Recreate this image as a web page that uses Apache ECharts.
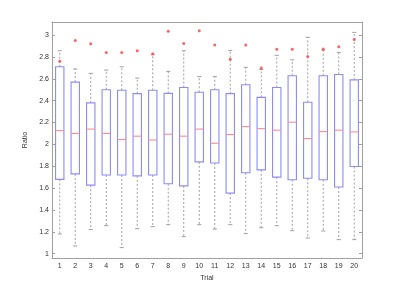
<!DOCTYPE html>
<html>
<head>
<meta charset="utf-8">
<script src="https://cdn.jsdelivr.net/npm/echarts@6/dist/echarts.min.js"></script>
<style>html,body{margin:0;padding:0;background:#fff}#c{width:399px;height:291px}</style>
</head>
<body>
<div id="c"></div>
<script>
var trials = ['1','2','3','4','5','6','7','8','9','10','11','12','13','14','15','16','17','18','19','20'];
var lowerWhisker = [1.18,1.07,1.22,1.256,1.055,1.228,1.247,1.265,1.155,1.265,1.225,1.265,1.183,1.237,1.256,1.21,1.143,1.207,1.128,1.128];
var q1 = [1.68,1.73,1.627,1.72,1.72,1.712,1.72,1.64,1.62,1.84,1.83,1.554,1.74,1.767,1.70,1.676,1.69,1.676,1.61,1.797];
var median = [2.126,2.10,2.14,2.10,2.044,2.075,2.04,2.093,2.075,2.14,2.01,2.09,2.163,2.144,2.13,2.203,2.053,2.117,2.13,2.114];
var q3 = [2.71,2.57,2.38,2.50,2.495,2.464,2.495,2.467,2.52,2.477,2.50,2.464,2.546,2.43,2.52,2.628,2.385,2.628,2.64,2.59];
var upperWhisker = [2.857,2.69,2.65,2.68,2.71,2.607,2.82,2.668,2.857,2.62,2.62,2.86,2.705,2.686,2.815,2.774,2.98,2.863,2.842,3.025];
var outliers = [2.76,2.95,2.92,2.84,2.84,2.857,2.83,3.036,2.924,3.04,2.91,2.78,2.91,2.70,2.87,2.87,2.805,2.872,2.893,2.96];
var yTicks = [1,1.2,1.4,1.6,1.8,2,2.2,2.4,2.6,2.8,3];

var boxData = trials.map(function(t,i){return [i, lowerWhisker[i], q1[i], median[i], q3[i], upperWhisker[i]];});
var outData = outliers.map(function(v,i){return [i, v];});

var axisCol = '#a0a0a0';
var font = 'Liberation Sans, Arial, sans-serif';

var chart = echarts.init(document.getElementById('c'));
chart.setOption({
  animation: false,
  backgroundColor: '#fff',
  grid: {left: 52, right: 37, top: 22, bottom: 33},
  xAxis: [{
    type: 'category', data: trials, position: 'bottom',
    name: 'Trial', nameLocation: 'middle', nameGap: 14,
    nameTextStyle: {fontSize: 7, color: '#333', fontFamily: font},
    axisLine: {lineStyle: {color: axisCol}},
    axisTick: {inside: true, length: 3, alignWithLabel: true, lineStyle: {color: axisCol}},
    axisLabel: {fontSize: 7, color: '#333', margin: 5, fontFamily: font, interval: 0},
    splitLine: {show: false}
  },{
    type: 'category', data: trials, position: 'top',
    axisLine: {lineStyle: {color: axisCol}},
    axisTick: {inside: true, length: 3, alignWithLabel: true, lineStyle: {color: axisCol}},
    axisLabel: {show: false},
    splitLine: {show: false}
  }],
  yAxis: [{
    type: 'value', min: 0.96, max: 3.12, position: 'left',
    name: 'Ratio', nameLocation: 'middle', nameGap: 13,
    nameTextStyle: {fontSize: 7, color: '#333', fontFamily: font},
    axisLine: {show: true, lineStyle: {color: axisCol}},
    axisTick: {show: true, inside: true, length: 3, customValues: yTicks, lineStyle: {color: axisCol}},
    axisLabel: {fontSize: 7, color: '#333', margin: 3, fontFamily: font, customValues: yTicks},
    splitLine: {show: false}
  },{
    type: 'value', min: 0.96, max: 3.12, position: 'right',
    axisLine: {show: true, lineStyle: {color: axisCol}},
    axisTick: {show: true, inside: true, length: 3, customValues: yTicks, lineStyle: {color: axisCol}},
    axisLabel: {show: false},
    splitLine: {show: false}
  }],
  series: [{
    type: 'custom',
    xAxisIndex: 0, yAxisIndex: 0,
    data: boxData,
    encode: {x: 0, y: [1,2,3,4,5]},
    renderItem: function(params, api){
      var x = api.value(0);
      var pLo = api.coord([x, api.value(1)]);
      var pQ1 = api.coord([x, api.value(2)]);
      var pMed = api.coord([x, api.value(3)]);
      var pQ3 = api.coord([x, api.value(4)]);
      var pHi = api.coord([x, api.value(5)]);
      var band = api.size([1, 0])[0];
      var bw = band * 0.54;
      var cw = bw * 0.5;
      var cx = pMed[0];
      var wStyle = {stroke: '#a0a0a0', lineWidth: 1, lineDash: [2, 2]};
      var cStyle = {stroke: '#a0a0a0', lineWidth: 1};
      return {
        type: 'group',
        children: [
          {type: 'line', shape: {x1: cx, y1: pQ3[1], x2: cx, y2: pHi[1]}, style: wStyle},
          {type: 'line', shape: {x1: cx, y1: pQ1[1], x2: cx, y2: pLo[1]}, style: wStyle},
          {type: 'line', shape: {x1: cx - cw/2, y1: pHi[1], x2: cx + cw/2, y2: pHi[1]}, style: cStyle},
          {type: 'line', shape: {x1: cx - cw/2, y1: pLo[1], x2: cx + cw/2, y2: pLo[1]}, style: cStyle},
          {type: 'rect', shape: {x: cx - bw/2, y: pQ3[1], width: bw, height: pQ1[1] - pQ3[1]},
            style: {fill: null, stroke: '#8c8cff', lineWidth: 1.1}},
          {type: 'line', shape: {x1: cx - bw/2, y1: pMed[1], x2: cx + bw/2, y2: pMed[1]},
            style: {stroke: '#ff8c8c', lineWidth: 1.1}}
        ]
      };
    }
  },{
    type: 'scatter',
    xAxisIndex: 0, yAxisIndex: 0,
    data: outData,
    symbol: 'circle',
    symbolSize: 3,
    itemStyle: {color: '#ff3c3c'},
    z: 5
  }]
});
</script>
</body>
</html>
